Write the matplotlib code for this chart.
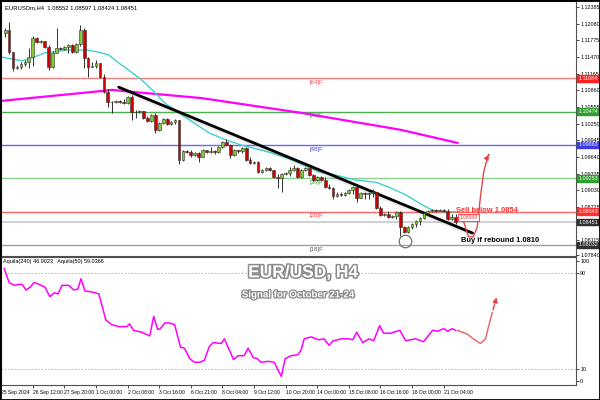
import numpy as np
import matplotlib
matplotlib.use("Agg")
import matplotlib.pyplot as plt
import matplotlib.patheffects as pe
from matplotlib.patches import Rectangle

plt.rcParams["font.family"] = ["Liberation Sans", "DejaVu Sans"]

# --- H4 candles (EURUSD) ---
first_open = 1.1191
close = [1.1197, 1.1156, 1.1127, 1.1129, 1.1134, 1.1138, 1.1147, 1.1182, 1.1175, 1.1176,
         1.1166, 1.1129, 1.1155, 1.1164, 1.1162, 1.1166, 1.1169, 1.1156, 1.1171, 1.1197,
         1.1145, 1.1129, 1.1131, 1.1136, 1.1111, 1.1083, 1.1065, 1.1065, 1.1067, 1.1065,
         1.1063, 1.1074, 1.1047, 1.1047, 1.1048, 1.1036, 1.1030, 1.1041, 1.1014, 1.1027,
         1.1034, 1.1025, 1.1028, 1.1032, 1.0959, 1.0975, 1.0973, 1.0968, 1.0972, 1.0964,
         1.0977, 1.0973, 1.0975, 1.0973, 1.0983, 1.0992, 1.0986, 1.0968, 1.0977, 1.0975,
         1.0981, 1.0959, 1.0953, 1.0955, 1.0937, 1.0940, 1.0944, 1.0940, 1.0928, 1.0926,
         1.0933, 1.0935, 1.0940, 1.0944, 1.0928, 1.0940, 1.0944, 1.0931, 1.0922, 1.0928,
         1.0922, 1.0909, 1.0907, 1.0893, 1.0896, 1.0895, 1.0898, 1.0904, 1.0909, 1.0889,
         1.0898, 1.0896, 1.0898, 1.0900, 1.0871, 1.0858, 1.0860, 1.0855, 1.0856, 1.0864,
         1.0836, 1.0827, 1.0836, 1.0842, 1.0847, 1.0853, 1.0862, 1.0865, 1.0867, 1.0865,
         1.0867, 1.0865, 1.0851, 1.0855, 1.08451]
high = [1.1200, 1.1211, 1.1156, 1.1133, 1.1138, 1.1142, 1.1164, 1.1186, 1.1184, 1.1178,
        1.1176, 1.1169, 1.1158, 1.1200, 1.1166, 1.1167, 1.1171, 1.1171, 1.1173, 1.1206,
        1.1200, 1.1147, 1.1138, 1.1142, 1.1136, 1.1116, 1.1089, 1.1067, 1.1069, 1.1069,
        1.1070, 1.1076, 1.1078, 1.1050, 1.1050, 1.1048, 1.1039, 1.1043, 1.1045, 1.1028,
        1.1036, 1.1036, 1.1030, 1.1034, 1.1032, 1.0977, 1.0977, 1.0977, 1.0973, 1.0973,
        1.0979, 1.0977, 1.0983, 1.0977, 1.0984, 1.0993, 1.0997, 1.0988, 1.0979, 1.0977,
        1.0983, 1.0983, 1.0964, 1.0957, 1.0957, 1.0942, 1.0946, 1.0946, 1.0940, 1.0933,
        1.0935, 1.0937, 1.0946, 1.0950, 1.0946, 1.0942, 1.0946, 1.0944, 1.0933, 1.0929,
        1.0929, 1.0928, 1.0915, 1.0909, 1.0900, 1.0900, 1.0900, 1.0906, 1.0911, 1.0911,
        1.0900, 1.0900, 1.0900, 1.0906, 1.0900, 1.0874, 1.0862, 1.0865, 1.0858, 1.0865,
        1.0865, 1.0838, 1.0838, 1.0843, 1.0849, 1.0855, 1.0864, 1.0867, 1.0869, 1.0869,
        1.0869, 1.0869, 1.0869, 1.0860, 1.08597]
low = [1.1184, 1.1153, 1.1122, 1.1125, 1.1125, 1.1131, 1.1127, 1.1131, 1.1173, 1.1173,
       1.1164, 1.1123, 1.1127, 1.1155, 1.1160, 1.1160, 1.1155, 1.1155, 1.1155, 1.1167,
       1.1127, 1.1111, 1.1129, 1.1127, 1.1109, 1.1081, 1.1056, 1.1045, 1.1063, 1.1063,
       1.1061, 1.1061, 1.1032, 1.1036, 1.1045, 1.1034, 1.1028, 1.1028, 1.1008, 1.1012,
       1.1025, 1.1023, 1.1023, 1.1025, 1.0951, 1.0957, 1.0972, 1.0964, 1.0966, 1.0955,
       1.0964, 1.0972, 1.0972, 1.0970, 1.0972, 1.0981, 1.0984, 1.0963, 1.0966, 1.0972,
       1.0972, 1.0957, 1.0951, 1.0951, 1.0935, 1.0935, 1.0939, 1.0939, 1.0926, 1.0907,
       1.0900, 1.0931, 1.0929, 1.0939, 1.0926, 1.0926, 1.0939, 1.0929, 1.0920, 1.0920,
       1.0920, 1.0907, 1.0906, 1.0887, 1.0891, 1.0893, 1.0893, 1.0896, 1.0896, 1.0882,
       1.0889, 1.0887, 1.0887, 1.0891, 1.0869, 1.0856, 1.0856, 1.0853, 1.0853, 1.0851,
       1.0820, 1.0825, 1.0825, 1.0833, 1.0836, 1.0840, 1.0851, 1.0858, 1.0864, 1.0864,
       1.0865, 1.0864, 1.0849, 1.0849, 1.08424]

# moving averages (sampled along the lines)
ma_fast_x = [-0.8, 4.3, 7.3, 10.1, 16.1, 20.7, 23.7, 26.2, 28.8, 31.3, 34.6, 37.8, 40.4,
             43.4, 47.7, 51.7, 56.0, 59.8, 66.8, 71.1, 75.4, 79.4, 83.7, 88.8, 93.8, 97.1,
             101.4, 105.7, 108.2, 110.7, 114.0]
ma_fast_y = [1.1147, 1.1140, 1.1147, 1.1155, 1.1160, 1.1160, 1.1156, 1.1151, 1.1136, 1.1123,
             1.1105, 1.1083, 1.1063, 1.1048, 1.1027, 1.1008, 1.0995, 1.0986, 1.0973, 1.0963,
             1.0950, 1.0937, 1.0931, 1.0922, 1.0918, 1.0909, 1.0895, 1.0876, 1.0867, 1.0864,
             1.0864]
ma_slow_x = [-0.8, 11.9, 24.5, 27.0, 32.8, 49.7, 74.9, 100.1, 114.5]
ma_slow_y = [1.1067, 1.1076, 1.1085, 1.1087, 1.1083, 1.1072, 1.1045, 1.1014, 1.0990]

trend_x = [28.75, 118.3]
trend_y = [1.1092, 1.0825]

# Murrey-style levels
levels = [1.11084, 1.10474, 1.09863, 1.09253, 1.08643, 1.08032]
level_names = ["[64]F", "[56]F", "[48]F", "[36]F", "[28]F", "[18]F"]
level_colors = ["#f08080", "#4caf50", "#6a6af0", "#8fd08f", "#ff6464", "#a0a0a0"]
level_text = ["#f05050", "#3a9a3a", "#4848e0", "#4aa84a", "#ff4040", "#606060"]
level_box = ["#ff2020", "#2e9e2e", "#3a3ae8", "#2e9e2e", "#ff3030", "#303030"]
last_price = 1.08451

price_ticks = [1.12385, 1.12080, 1.11775, 1.11470, 1.11165, 1.10860, 1.10555, 1.10250,
               1.09945, 1.09640, 1.09335, 1.09030, 1.08725, 1.08115, 1.07840]

# forecast path (price)
fc_x = [115.5, 116.5, 117.3, 118.5, 119.5, 120.3, 121.1, 122.1]
fc_y = [1.0858, 1.0836, 1.0818, 1.0818, 1.0836, 1.0891, 1.0935, 1.0964]
fc_tip = (122.8, 1.0973)

# oscillator
osc_x = [-0.25, 1.0, 2.3, 3.5, 4.3, 5.3, 6.3, 7.3, 8.6, 10.1, 11.3, 12.4, 13.4, 14.4, 16.1,
         17.4, 18.4, 19.2, 20.2, 21.9, 23.7, 25.5, 27.0, 28.8, 30.8, 31.5, 32.5, 34.6, 36.6,
         37.6, 38.6, 39.3, 40.4, 41.6, 42.9, 44.4, 45.4, 46.7, 47.9, 49.2, 50.4, 51.7, 52.7,
         54.7, 55.5, 57.8, 59.0, 60.5, 61.5, 62.8, 63.8, 64.8, 66.6, 68.1, 69.9, 70.9, 72.4,
         74.1, 74.9, 75.7, 77.4, 79.4, 80.7, 82.0, 83.0, 84.2, 85.0, 87.0, 88.0, 89.0, 90.5,
         92.1, 93.3, 94.8, 95.8, 97.6, 99.9, 101.4, 103.9, 105.9, 108.2, 109.5, 111.0, 112.0,
         113.2, 114.0]
osc_y = [93.9, 82.2, 79.8, 80.6, 80.6, 75.9, 78.2, 82.2, 80.6, 78.2, 70.4, 73.5, 72.7, 79.8,
         79.8, 75.9, 76.7, 85.3, 75.1, 74.3, 72.7, 50.8, 46.9, 45.3, 45.3, 47.6, 42.2, 40.6,
         37.5, 53.9, 42.9, 43.7, 48.4, 48.4, 46.9, 28.0, 27.3, 18.6, 15.5, 15.5, 17.1, 28.8,
         32.0, 31.2, 35.1, 17.8, 21.0, 21.0, 27.3, 19.4, 18.6, 15.5, 16.3, 15.5, 3.7, 18.6,
         21.0, 21.8, 25.7, 35.1, 36.7, 34.3, 35.1, 29.6, 33.5, 34.3, 35.1, 35.1, 34.3, 40.6,
         32.0, 35.1, 33.5, 46.1, 39.8, 39.8, 42.2, 33.5, 35.1, 32.7, 42.2, 41.4, 43.7, 41.4,
         43.7, 42.2]
ofc_x = [114.5, 117.0, 118.5, 120.3, 121.6, 122.3, 123.3]
ofc_y = [42.2, 39.0, 35.1, 31.2, 35.1, 44.5, 57.1]
ofc_tip = (124.6, 72.0)

date_pos = [-1, 7, 15, 23, 31, 39, 47, 55, 63, 71, 79, 87, 95, 103, 111]
date_labels = ["25 Sep 2024", "26 Sep 12:00", "27 Sep 20:00", "1 Oct 00:00", "2 Oct 08:00",
               "3 Oct 16:00", "6 Oct 21:00", "8 Oct 04:00", "9 Oct 12:00", "10 Oct 20:00",
               "14 Oct 00:00", "15 Oct 08:00", "16 Oct 16:00", "18 Oct 00:00", "21 Oct 04:00"]

# ---------------------------------------------------------------
fig = plt.figure(figsize=(6, 4), dpi=100)
ax = fig.add_axes([0.002, 0.36, 0.958, 0.6375])
ax2 = fig.add_axes([0.002, 0.0375, 0.958, 0.32], sharex=ax)
fig.patches.append(Rectangle((0, 0), 1, 1, transform=fig.transFigure, fill=False,
                             ec="black", lw=2))

o = np.array([first_open] + close[:-1])
c = np.array(close)
h = np.maximum.reduce([np.array(high), o, c])
l = np.minimum.reduce([np.array(low), o, c])
xi = np.arange(len(c))

# levels
for lv, nm, col, tcol in zip(levels, level_names, level_colors, level_text):
    ax.axhline(lv, color=col, lw=1, zorder=1)
    ax.text(77, lv - 0.0003, nm, color=tcol, fontsize=4.3, ha="left", va="top", zorder=2)
ax.axhline(last_price, color="#c8c8c8", lw=1.2, zorder=1)

# MAs
ax.plot(ma_slow_x, ma_slow_y, color="#ff00ff", lw=1.6, zorder=2)
ax.plot(ma_fast_x, ma_fast_y, color="#40d0d0", lw=1, zorder=2)

# trendline with soft shadow
tx = np.array(trend_x)
ty = np.array(trend_y)
for k, a in enumerate([0.35, 0.25, 0.16, 0.08]):
    ax.fill_between(tx, ty - 0.00018 * k, ty - 0.00018 * (k + 1), color="gray",
                    alpha=a, lw=0, zorder=2)
ax.plot(tx, ty, color="black", lw=2, zorder=3, solid_capstyle="round")

# candles
up = c >= o
ax.vlines(xi, l, h, color="#303030", lw=0.7, zorder=4)
body_lo = np.minimum(o, c)
body_h = np.maximum(np.abs(c - o), 0.00004)
ax.bar(xi[up], body_h[up], bottom=body_lo[up], width=0.7, color="#7fcc33",
       edgecolor="#303030", lw=0.4, zorder=5)
ax.bar(xi[~up], body_h[~up], bottom=body_lo[~up], width=0.7, color="#cc0000",
       edgecolor="#303030", lw=0.4, zorder=5)

# forecast arrow
ax.plot(fc_x, fc_y, color="#e04848", lw=1, zorder=6)
ax.annotate("", xy=fc_tip, xytext=(fc_x[-1], fc_y[-1]),
            arrowprops=dict(arrowstyle="-|>", color="#e04848", lw=1, mutation_scale=7),
            zorder=6)
ax.plot([101.1], [1.0811], marker="o", ms=9, mfc="none", mec="#707070", mew=0.9, zorder=6)

ax.text(114.0, 1.0866, "Sell below 1.0854", color="#ff3030", fontsize=5.4,
        fontweight="bold", ha="left", va="center", zorder=7)
ax.text(115.0, 1.0853, "1.08548", color="#ff3030", fontsize=3.6, ha="left", va="center",
        bbox=dict(boxstyle="square,pad=0.2", fc="white", ec="#ff3030", lw=0.6), zorder=7)
ax.text(115.3, 1.0812, "Buy if rebound 1.0810", color="black", fontsize=5.4,
        fontweight="bold", ha="left", va="center", zorder=7)

ax.text(0.006, 0.985, "EURUSDm,H4  1.08552 1.08597 1.08424 1.08451", transform=ax.transAxes,
        fontsize=4.2, ha="left", va="top")

ax.set_xlim(-0.76, 144.5)
ax.set_ylim(1.07830, 1.12497)
ax.yaxis.tick_right()
ax.set_yticks(price_ticks)
ax.set_yticklabels(["%.5f" % v for v in price_ticks])
ax.tick_params(axis="y", labelsize=3.9, length=2, pad=1, width=0.5)
ax.tick_params(axis="x", bottom=False, labelbottom=False)

# price boxes on the axis
ytr = ax.get_yaxis_transform()
for lv, col in zip(levels, level_box):
    ax.text(1.004, lv, "%.5f" % lv, transform=ytr, fontsize=3.9, color="white",
            ha="left", va="center",
            bbox=dict(boxstyle="square,pad=0.15", fc=col, ec=col))
ax.text(1.004, last_price, "%.5f" % last_price, transform=ytr, fontsize=3.9, color="white",
        ha="left", va="center", bbox=dict(boxstyle="square,pad=0.15", fc="#303030", ec="#303030"))

# oscillator panel
for lv in [90, 10]:
    ax2.axhline(lv, color="#b0b0b0", lw=0.6, ls=(0, (2, 2)))
ax2.plot(osc_x, osc_y, color="#ff00ff", lw=1.1)
ax2.plot(ofc_x, ofc_y, color="#e86060", lw=1)
ax2.annotate("", xy=ofc_tip, xytext=(ofc_x[-1], ofc_y[-1]),
             arrowprops=dict(arrowstyle="-|>", color="#e04848", lw=1, mutation_scale=7))
ax2.set_ylim(-3.5, 103.5)
ax2.yaxis.tick_right()
ax2.set_yticks([100, 90, 10, 0])
ax2.set_yticklabels(["100", "90", "10", "0"])
ax2.tick_params(axis="y", labelsize=3.9, length=2, pad=1, width=0.5)
ax2.set_xticks(date_pos)
ax2.set_xticklabels(date_labels, ha="left")
ax2.tick_params(axis="x", labelsize=3.6, length=2, pad=1.5, width=0.5)
ax2.text(0.004, 0.985, "Aquila(240) 46.9023   Aquila(50) 59.0366", transform=ax2.transAxes,
         fontsize=4.0, ha="left", va="top")

outline = [pe.Stroke(linewidth=2.2, foreground="#8a8a8a"), pe.Normal()]
fig.text(0.505, 0.318, "EUR/USD, H4", fontsize=12.5, fontweight="bold", color="white",
         ha="center", va="center", path_effects=outline)
fig.text(0.497, 0.264, "Signal for October 21-24", fontsize=7, fontweight="bold",
         color="white", ha="center", va="center",
         path_effects=[pe.Stroke(linewidth=1.8, foreground="#8a8a8a"), pe.Normal()])

for a in (ax, ax2):
    for s in a.spines.values():
        s.set_color("#505050")
        s.set_linewidth(0.8)

fig.savefig("out.png", dpi=100)
